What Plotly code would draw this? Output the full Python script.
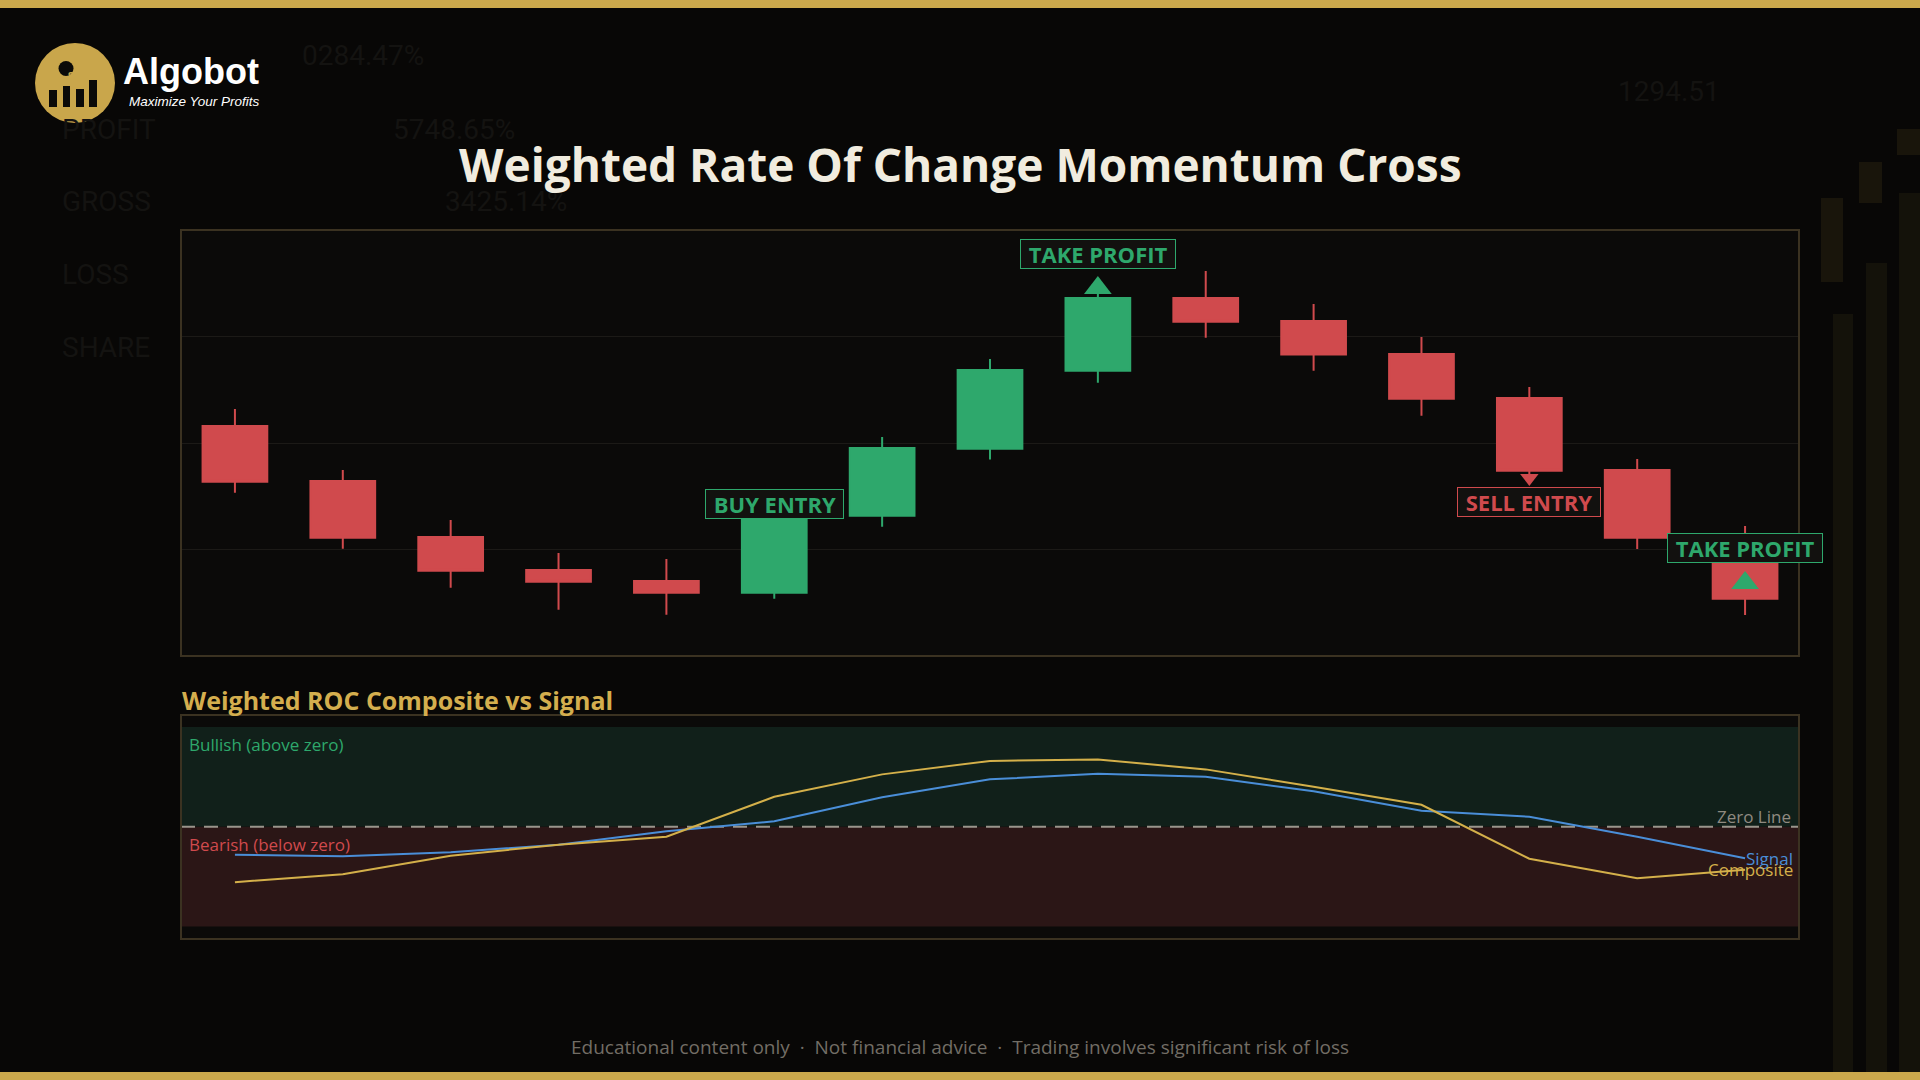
import plotly.graph_objects as go

W, H = 1920, 1080

# ---- price data (15 bars) ----
bars = list(range(15))
open_ = [110.80, 108.22, 105.59, 104.04, 103.52, 102.97, 106.59, 109.73, 113.39,
         116.81, 115.73, 114.18, 112.11, 108.73, 104.69]
high = [111.60, 108.73, 106.38, 104.84, 104.55, 106.76, 110.28, 113.94, 117.00,
        118.08, 116.53, 114.98, 112.63, 109.25, 106.10]
low = [107.67, 105.04, 103.21, 102.17, 101.94, 102.69, 106.07, 109.22, 112.83,
       114.94, 113.39, 111.28, 108.36, 105.02, 101.92]
close = [108.18, 105.55, 104.00, 103.49, 102.97, 106.54, 109.77, 113.43, 116.81,
         115.69, 114.15, 112.08, 108.70, 105.55, 102.69]

# ---- weighted ROC composite and its signal line ----
composite = [-1.11, -0.95, -0.58, -0.36, -0.20, 0.60, 1.05, 1.32, 1.35, 1.15,
             0.80, 0.44, -0.64, -1.03, -0.86]
signal = [-0.56, -0.59, -0.51, -0.36, -0.09, 0.11, 0.59, 0.95, 1.06, 1.00,
          0.71, 0.32, 0.20, -0.20, -0.63]

# ---- trade signals ----
label_bars = [5, 8, 12, 14]
label_text = ["BUY ENTRY", "TAKE PROFIT", "SELL ENTRY", "TAKE PROFIT"]
label_price = [107.14, 118.85, 107.25, 105.06]
label_side = ["long", "long", "short", "long"]

up_marker_bars = [8, 14]
up_marker_price = [117.28, 103.43]
down_marker_bars = [12]
down_marker_price = [108.36]

GREEN = "#2ea86c"
RED = "#d04a4d"
GOLD = "#cba84c"
BLUE = "#4a8ed8"
LINE_GOLD = "#d4b04a"


def box(x0, y0, x1, y1):
    # pixel box -> paper coords
    return dict(xref="paper", yref="paper", x0=x0 / W, x1=x1 / W,
                y0=1 - y1 / H, y1=1 - y0 / H)


def path(points, close=False):
    s = "M " + " L ".join(f"{x / W:.5f},{1 - y / H:.5f}" for x, y in points)
    return s + (" Z" if close else "")


fig = go.Figure()

fig.add_trace(go.Candlestick(
    x=bars, open=open_, high=high, low=low, close=close,
    increasing=dict(fillcolor=GREEN, line=dict(color=GREEN, width=2)),
    decreasing=dict(fillcolor=RED, line=dict(color=RED, width=2)),
    whiskerwidth=0, hoverinfo="skip", xaxis="x", yaxis="y"))

fig.add_trace(go.Scatter(
    x=up_marker_bars, y=up_marker_price, mode="markers",
    marker=dict(symbol="triangle-up", size=24, color=GREEN),
    hoverinfo="skip", xaxis="x", yaxis="y"))
fig.add_trace(go.Scatter(
    x=down_marker_bars, y=down_marker_price, mode="markers",
    marker=dict(symbol="triangle-down", size=16, color=RED),
    hoverinfo="skip", xaxis="x", yaxis="y"))

fig.add_trace(go.Scatter(
    x=bars, y=signal, mode="lines", line=dict(color=BLUE, width=2),
    hoverinfo="skip", xaxis="x2", yaxis="y2"))
fig.add_trace(go.Scatter(
    x=bars, y=composite, mode="lines", line=dict(color=LINE_GOLD, width=2),
    hoverinfo="skip", xaxis="x2", yaxis="y2"))

shapes = []

# background decoration (very faint)
shapes.append(dict(type="path", path=path([(0, 479), (43, 410), (166, 707), (180, 714)]),
                   line=dict(color="#1b1a18", width=3), layer="below"))
shapes.append(dict(type="path", path=path([(1560, 330), (1617, 227), (1667, 131), (1843, 83), (1897, 10)]),
                   line=dict(color="#221d10", width=3), layer="below"))
for x0, y0, x1 in [(1833, 314, 1853), (1866, 263, 1887), (1899, 193, 1920)]:
    shapes.append(dict(type="rect", **box(x0, y0, x1, 1072), fillcolor="#14120a",
                       line=dict(width=0), layer="below"))
for x0, y0, x1, y1 in [(1821, 198, 1843, 282), (1859, 162, 1882, 203), (1897, 129, 1920, 155)]:
    shapes.append(dict(type="rect", **box(x0, y0, x1, y1), fillcolor="#19150b",
                       line=dict(width=0), layer="below"))

# gold frame bars
shapes.append(dict(type="rect", **box(0, 0, W, 8), fillcolor=GOLD, line=dict(width=0)))
shapes.append(dict(type="rect", **box(0, 1072, W, H), fillcolor=GOLD, line=dict(width=0)))

# logo
shapes.append(dict(type="circle", **box(35, 43, 115, 123), fillcolor="#c9a64b", line=dict(width=0)))
for x0, y0, x1 in [(49, 90, 57), (63, 86, 70), (76, 89, 84), (89, 80, 97)]:
    shapes.append(dict(type="rect", **box(x0, y0, x1, 107), fillcolor="#0b0a08", line=dict(width=0)))
shapes.append(dict(type="path", path=path([(48, 84), (60, 78), (75, 84), (96, 64)]),
                   line=dict(color="#0b0a08", width=3)))
shapes.append(dict(type="path", path=path([(89, 60), (103, 56), (100, 70)], close=True),
                   fillcolor="#0b0a08", line=dict(color="#0b0a08", width=1)))
shapes.append(dict(type="circle", **box(58.5, 61, 73.5, 76), fillcolor="#0b0a08", line=dict(width=0)))

# indicator zones
shapes.append(dict(type="rect", xref="x2 domain", yref="y2", x0=0, x1=1, y0=0, y1=2,
                   fillcolor="#11201a", line=dict(width=0), layer="below"))
shapes.append(dict(type="rect", xref="x2 domain", yref="y2", x0=0, x1=1, y0=-2, y1=0,
                   fillcolor="#2b1616", line=dict(width=0), layer="below"))
shapes.append(dict(type="line", xref="x2 domain", yref="y2", x0=0, x1=1, y0=0, y1=0,
                   line=dict(color="#9a958c", width=2, dash="14px,9px"), layer="below"))

# panel borders
for xr, yr in [("x domain", "y domain"), ("x2 domain", "y2 domain")]:
    shapes.append(dict(type="rect", xref=xr, yref=yr, x0=0, x1=1, y0=0, y1=1,
                       line=dict(color="#3b3221", width=2), fillcolor="rgba(0,0,0,0)"))

annotations = []

faint = [("PROFIT", 60, 129), ("5748.65%", 391, 129), ("0284.47%", 300, 55),
         ("GROSS", 60, 201), ("3425.14%", 443, 201), ("LOSS", 60, 274),
         ("SHARE", 60, 347), ("1294.51", 1616, 92)]
for t, x, y in faint:
    annotations.append(dict(text=t, xref="paper", yref="paper", x=x / W, y=1 - y / H,
                            xanchor="left", yanchor="middle", showarrow=False,
                            font=dict(family="Liberation Sans Narrow, Roboto", size=28, color="#141311")))

annotations.append(dict(text="$", xref="paper", yref="paper", x=66 / W, y=1 - 68.5 / H,
                        showarrow=False, font=dict(family="Liberation Sans", size=11, color="#c9a64b", weight="bold")))
annotations.append(dict(text="Algobot", xref="paper", yref="paper", x=121 / W, y=1 - 71 / H,
                        xanchor="left", yanchor="middle", showarrow=False,
                        font=dict(family="Liberation Sans", size=36, color="#ffffff", weight="bold")))
annotations.append(dict(text="Maximize Your Profits", xref="paper", yref="paper", x=127 / W, y=1 - 101 / H,
                        xanchor="left", yanchor="middle", showarrow=False,
                        font=dict(family="Liberation Sans", size=13.5, color="#ffffff", style="italic")))

annotations.append(dict(text="Weighted Rate Of Change Momentum Cross", xref="paper", yref="paper",
                        x=0.5, y=1 - 164 / H, xanchor="center", yanchor="middle", showarrow=False,
                        font=dict(family="Open Sans", size=46, color="#f1ecdf", weight="bold")))
annotations.append(dict(text="Weighted ROC Composite vs Signal", xref="paper", yref="paper",
                        x=180 / W, y=1 - 700 / H, xanchor="left", yanchor="middle", showarrow=False,
                        font=dict(family="Open Sans", size=25, color="#d4ae4e", weight="bold")))
annotations.append(dict(text="Educational content only  \u00b7  Not financial advice  \u00b7  Trading involves significant risk of loss",
                        xref="paper", yref="paper", x=0.5, y=1 - 1047 / H, xanchor="center", yanchor="middle",
                        showarrow=False, font=dict(family="Open Sans", size=19, color="#726d65")))

# trade labels
for b, t, p, side in zip(label_bars, label_text, label_price, label_side):
    c = GREEN if side == "long" else RED
    annotations.append(dict(text="\u00a0" + t + "\u00a0", x=b, y=p, xref="x", yref="y",
                            xanchor="center", yanchor="middle", showarrow=False, height=24,
                            bgcolor="#12110f", bordercolor=c, borderwidth=1, borderpad=2,
                            font=dict(family="Open Sans", size=22, color=c, weight="bold")))

# indicator text
annotations.append(dict(text="Bullish (above zero)", xref="x2 domain", yref="y2", x=0.004, y=2,
                        xanchor="left", yanchor="top", yshift=-4, showarrow=False,
                        font=dict(family="Open Sans", size=17, color=GREEN)))
annotations.append(dict(text="Bearish (below zero)", xref="x2 domain", yref="y2", x=0.004, y=0,
                        xanchor="left", yanchor="top", yshift=-4, showarrow=False,
                        font=dict(family="Open Sans", size=17, color=RED)))
annotations.append(dict(text="Zero Line", xref="x2 domain", yref="y2", x=0.9965, y=0,
                        xanchor="right", yanchor="middle", yshift=10, showarrow=False,
                        font=dict(family="Open Sans", size=17, color="#8f8a81")))
annotations.append(dict(text="Signal", xref="x2 domain", yref="y2", x=0.9975, y=signal[-1],
                        xanchor="right", yanchor="middle", showarrow=False,
                        font=dict(family="Open Sans", size=17, color=BLUE)))
annotations.append(dict(text="Composite", xref="x2 domain", yref="y2", x=0.9975, y=composite[-1],
                        xanchor="right", yanchor="middle", showarrow=False,
                        font=dict(family="Open Sans", size=17, color=LINE_GOLD)))

hidden = dict(showgrid=False, zeroline=False, showticklabels=False, ticks="", showline=False, fixedrange=True)

fig.update_layout(
    width=W, height=H, margin=dict(l=0, r=0, t=0, b=0),
    paper_bgcolor="#080706", plot_bgcolor="#0b0a09",
    showlegend=False, boxgap=0.4, boxgroupgap=0,
    xaxis=dict(domain=[181 / W, 1799 / W], range=[-0.5, 14.5], anchor="y",
               rangeslider=dict(visible=False), **hidden),
    yaxis=dict(domain=[1 - 656 / H, 1 - 230 / H], range=[100, 120], anchor="x",
               showgrid=True, gridcolor="#1c1a17", gridwidth=1, dtick=5,
               zeroline=False, showticklabels=False, ticks="", fixedrange=True),
    xaxis2=dict(domain=[181 / W, 1799 / W], range=[-0.5, 14.5], anchor="y2", **hidden),
    yaxis2=dict(domain=[1 - 939 / H, 1 - 715 / H], range=[-2.25, 2.24], anchor="x2", **hidden),
    shapes=shapes, annotations=annotations,
)

fig.write_html("out.html", config={"displayModeBar": False},
               post_script="document.body.style.margin='0';")
